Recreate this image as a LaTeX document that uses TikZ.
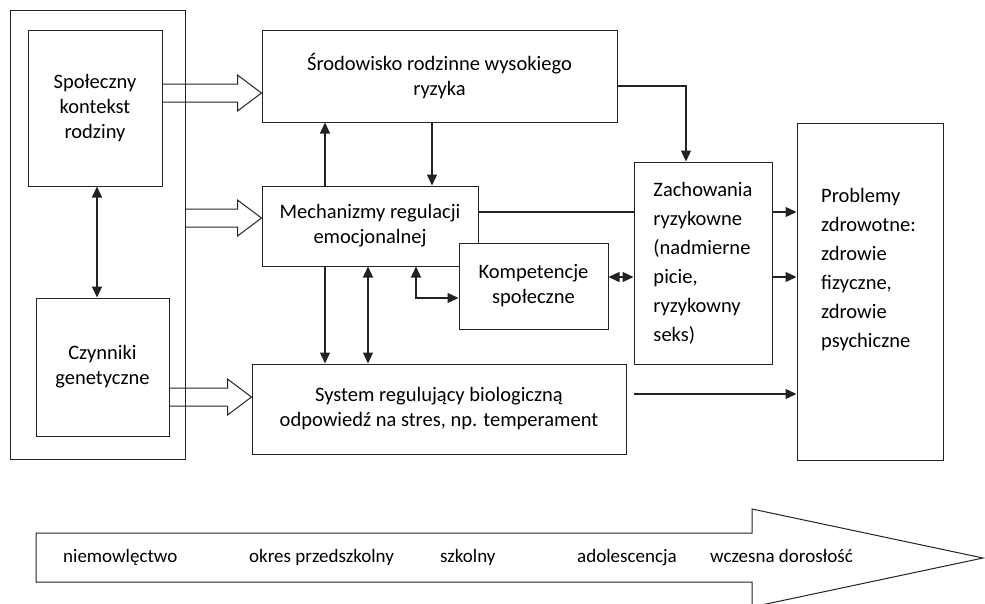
\documentclass[tikz,border=0pt]{standalone}
\usepackage{fontspec}
\setmainfont{Carlito}
\usepackage{tikz}
\definecolor{myline}{RGB}{35,35,35}
\usetikzlibrary{arrows.meta,positioning,fit,calc}

\newcommand{\hollowarrow}[2]{%
  \draw[fatarrow] ($(#1)+(0,-9)$) -- ($(#2)+(-24,-9)$) -- ($(#2)+(-24,-18)$)
    -- (#2) -- ($(#2)+(-24,18)$) -- ($(#2)+(-24,9)$) -- ($(#1)+(0,9)$);}

\begin{document}
\begin{tikzpicture}[x=1pt,y=-1pt,
    every node/.style={inner sep=0pt,text=black},
    box/.style={draw=myline,line width=1pt,fill=white,align=center,
      font=\fontsize{20.5}{25}\selectfont},
    tallbox/.style={box,align=left,font=\fontsize{20.5}{29}\selectfont},
    stage/.style={anchor=base west,font=\fontsize{19}{23}\selectfont},
    every fit/.style={draw=myline,line width=1pt,inner sep=0pt},
    arr/.style={draw=myline,line width=1.3pt,-{Triangle[length=11pt,width=10pt]}},
    dbl/.style={draw=myline,line width=1.3pt,{Triangle[length=11pt,width=10pt]}-{Triangle[length=11pt,width=10pt]}},
    plain/.style={draw=myline,line width=1.3pt},
    fatarrow/.style={draw=myline,line width=1pt,line join=miter}
    ]
    \useasboundingbox (0,0) rectangle (985,603);

    \node (outer) [fit={(10,10) (185,459)}] {};
    \node (spol) [box,minimum width=134pt,minimum height=156pt] at (95,108) {Społeczny\\ kontekst\\ rodziny};
    \node (czyn) [box,minimum width=133pt,minimum height=138pt] at (102.5,367) {Czynniki\\ genetyczne};
    \node (srod) [box,minimum width=355pt,minimum height=92pt] at (439.5,76) {Środowisko rodzinne wysokiego\\ ryzyka};
    \node (mech) [box,minimum width=216pt,minimum height=80pt] at (370,226) {Mechanizmy regulacji\\ emocjonalnej};
    \node (komp) [box,minimum width=149pt,minimum height=86pt] at (533.5,286) {Kompetencje\\ społeczne};
    \node (zach) [tallbox,minimum width=138pt,minimum height=202pt] at (703,263) {Zachowania\\ ryzykowne\\ (nadmierne\\ picie,\\ ryzykowny\\ seks)};
    \node (prob) [box,minimum width=146pt,minimum height=337pt] at (870,291.5) {};
    \node (probtext) [anchor=north west,align=left,font=\fontsize{20.5}{29}\selectfont] at (821,188) {Problemy\\ zdrowotne:\\ zdrowie\\ fizyczne,\\ zdrowie\\ psychiczne};
    \node (syst) [box,minimum width=374pt,minimum height=90pt] at (439,409) {System regulujący biologiczną\\ odpowiedź na stres, np. temperament};

    % the wide arrows
    \hollowarrow{spol.east |- 0,93}{srod.west |- 0,93}
    \hollowarrow{outer.east |- 0,218}{mech.west |- 0,218}
    \hollowarrow{czyn.east |- 0,397}{syst.west |- 0,397}

    % the edges
    \draw[dbl] (spol.south -| 97,0) -- (czyn.north -| 97,0);
    \draw[arr] (mech.north -| 325,0) -- (srod.south -| 325,0);
    \draw[arr] (srod.south -| 432,0) -- (mech.north -| 432,0);
    \draw[arr] (srod.east |- 0,86) -| (zach.north -| 686,0);
    \draw[plain] (mech.east |- 0,212) -- (zach.west |- 0,212);
    \draw[dbl] (komp.east |- 0,277) -- (zach.west |- 0,277);
    \draw[arr] (zach.east |- 0,212) -- (prob.west |- 0,212);
    \draw[arr] (zach.east |- 0,277) -- (prob.west |- 0,277);
    \coordinate (sysout) at (634,394);
    \draw[arr] (sysout) -- (prob.west |- sysout);
    \draw[arr] (mech.south -| 325,0) -- (syst.north -| 325,0);
    \draw[dbl] (mech.south -| 368,0) -- (syst.north -| 368,0);
    \draw[dbl] (mech.south -| 416,0) |- (komp.west |- 0,298);

    % the time line
    \draw[fatarrow] (36,533) -- (752,533) -- (752,509) -- (983,558) -- (752,607)
      -- (752,582) -- (36,582) -- cycle;
    \node (age1) [stage] at (63,562) {niemowlęctwo};
    \node (age2) [stage] at (249,562) {okres przedszkolny};
    \node (age3) [stage] at (440,562) {szkolny};
    \node (age4) [stage] at (577,562) {adolescencja};
    \node (age5) [stage] at (710,562) {wczesna dorosłość};
\end{tikzpicture}
\end{document}
